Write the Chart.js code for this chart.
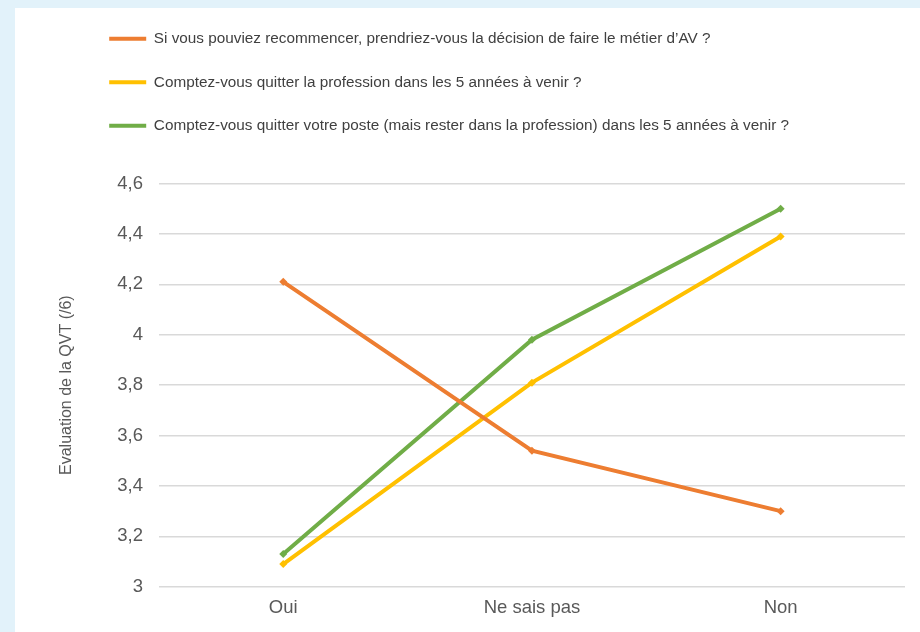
<!DOCTYPE html>
<html lang="fr">
<head>
    <meta charset="UTF-8">
    <title>Evaluation de la QVT</title>
    <script src="https://cdn.jsdelivr.net/npm/chart.js"></script>
    <style>
        body {
            margin: 0;
            padding: 0;
            background-color: #e2f2fa;
            font-family: 'Liberation Sans', Arial, sans-serif;
        }
        .card {
            position: absolute;
            left: 15px;
            top: 8px;
            width: 905px;
            height: 624px;
            background-color: white;
        }
    </style>
</head>
<body>
    <div class="card">
        <canvas id="qvtChart" width="905" height="624"></canvas>
    </div>
    <script>
        const categories = ['Oui', 'Ne sais pas', 'Non'];
        const seriesLabels = [
            'Si vous pouviez recommencer, prendriez-vous la décision de faire le métier d’AV ?',
            'Comptez-vous quitter la profession dans les 5 années à venir ?',
            'Comptez-vous quitter votre poste (mais rester dans la profession) dans les 5 années à venir ?'
        ];
        const recommencer = [4.21, 3.54, 3.30];
        const quitterProfession = [3.09, 3.81, 4.39];
        const quitterPoste = [3.13, 3.98, 4.50];
        const seriesColors = ['#ed7d31', '#ffc000', '#70ad47'];
        const yMin = 3, yMax = 4.6, yStep = 0.2;

        const seriesValues = [recommencer, quitterProfession, quitterPoste];
        const fontFamily = "'Liberation Sans', Arial, sans-serif";

        // legend sits higher and further right than Chart.js puts it
        const legendPlacement = {
            id: 'legendPlacement',
            afterInit(chart) {
                const fit = chart.legend.fit;
                chart.legend.fit = function () {
                    fit.call(this);
                    this.height += 35;
                };
            },
            afterLayout(chart) {
                chart.legend.left += 66;
                chart.legend.top -= 5;
            }
        };

        const ctx = document.getElementById('qvtChart').getContext('2d');
        new Chart(ctx, {
            type: 'line',
            data: {
                labels: categories,
                datasets: seriesValues.map((values, i) => ({
                    label: seriesLabels[i],
                    data: values,
                    borderColor: seriesColors[i],
                    backgroundColor: seriesColors[i],
                    borderWidth: 4,
                    pointStyle: 'rectRot',
                    pointRadius: 4,
                    pointBorderWidth: 0,
                    tension: 0,
                    fill: false
                }))
            },
            options: {
                responsive: false,
                animation: false,
                layout: {
                    padding: { left: 0, right: 15, top: 0, bottom: 3 }
                },
                plugins: {
                    legend: {
                        position: 'top',
                        align: 'start',
                        labels: {
                            boxWidth: 37,
                            boxHeight: 4,
                            padding: 28.2,
                            color: '#404040',
                            font: { family: fontFamily, size: 15.3 },
                            generateLabels(chart) {
                                return Chart.defaults.plugins.legend.labels.generateLabels(chart)
                                    .map(item => Object.assign(item, { lineWidth: 0 }));
                            }
                        }
                    },
                    tooltip: { enabled: false }
                },
                scales: {
                    x: {
                        offset: true,
                        grid: { display: false, drawTicks: false },
                        border: { display: false },
                        ticks: {
                            color: '#595959',
                            padding: 10,
                            font: { family: fontFamily, size: 18.5 }
                        }
                    },
                    y: {
                        min: yMin,
                        max: yMax,
                        grid: { color: '#d9d9d9', lineWidth: 1.5, drawTicks: false },
                        border: { display: false },
                        ticks: {
                            stepSize: yStep,
                            color: '#595959',
                            padding: 16,
                            font: { family: fontFamily, size: 18.5 },
                            callback: value => value.toLocaleString('fr-FR', { maximumFractionDigits: 1 })
                        },
                        title: {
                            display: true,
                            text: 'Evaluation de la QVT (/6)',
                            color: '#595959',
                            font: { family: fontFamily, size: 16 },
                            padding: { top: 42, bottom: 25 }
                        }
                    }
                }
            },
            plugins: [legendPlacement]
        });
    </script>
</body>
</html>
